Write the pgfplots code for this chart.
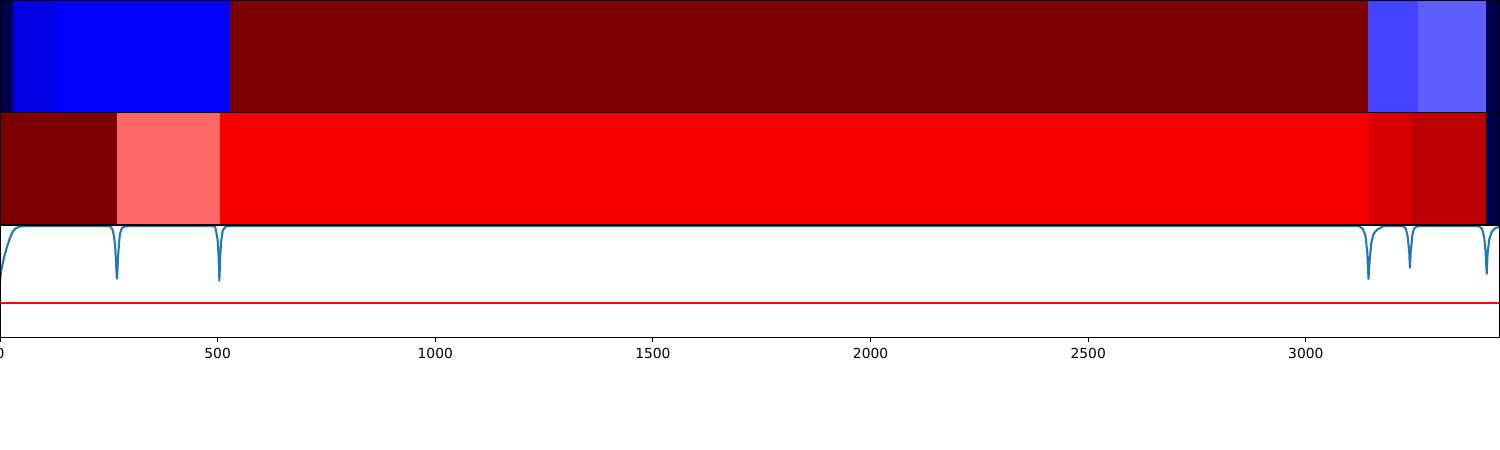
\documentclass[border=0pt]{standalone}
\usepackage{pgfplots}
\pgfplotsset{compat=1.18}
\usepackage{fontspec}
\setmainfont{DejaVu Sans}
\definecolor{navy}{HTML}{00004C}
\definecolor{bluea}{HTML}{0000E2}
\definecolor{blueb}{HTML}{0000FF}
\definecolor{bluec}{HTML}{4444FF}
\definecolor{blued}{HTML}{5E5EFF}
\definecolor{dred}{HTML}{7D0000}
\definecolor{reda}{HTML}{FF6666}
\definecolor{redb}{HTML}{F60000}
\definecolor{redc}{HTML}{D60000}
\definecolor{redd}{HTML}{BA0000}
\definecolor{tabblue}{HTML}{1F77B4}
\pgfplotsset{
  panel/.style={
    scale only axis, width=15in, height=1.125in,
    xmin=0, xmax=3446, ymin=0, ymax=1,
    axis on top, axis line style={black, line width=0.8pt},
    anchor=south west,
  },
  seg/.style={draw=none, fill=#1, forget plot},
}
\begin{document}
\begin{tikzpicture}
\useasboundingbox (0,0) rectangle (15in,4.5in);
% top panel
\begin{axis}[panel, at={(0,3.375in)}, xtick=\empty, ytick=\empty]
\addplot[seg=navy]  coordinates {(0,0) (29,0) (29,1) (0,1)} -- cycle;
\addplot[seg=bluea] coordinates {(29,0) (130,0) (130,1) (29,1)} -- cycle;
\addplot[seg=blueb] coordinates {(130,0) (528,0) (528,1) (130,1)} -- cycle;
\addplot[seg=dred]  coordinates {(528,0) (3142,0) (3142,1) (528,1)} -- cycle;
\addplot[seg=bluec] coordinates {(3142,0) (3257,0) (3257,1) (3142,1)} -- cycle;
\addplot[seg=blued] coordinates {(3257,0) (3415,0) (3415,1) (3257,1)} -- cycle;
\addplot[seg=navy]  coordinates {(3415,0) (3446,0) (3446,1) (3415,1)} -- cycle;
\end{axis}
% second panel
\begin{axis}[panel, at={(0,2.25in)}, xtick=\empty, ytick=\empty]
\addplot[seg=dred] coordinates {(0,0) (269,0) (269,1) (0,1)} -- cycle;
\addplot[seg=reda] coordinates {(269,0) (505,0) (505,1) (269,1)} -- cycle;
\addplot[seg=redb] coordinates {(505,0) (3144,0) (3144,1) (505,1)} -- cycle;
\addplot[seg=redc] coordinates {(3144,0) (3241,0) (3241,1) (3144,1)} -- cycle;
\addplot[seg=redd] coordinates {(3241,0) (3415,0) (3415,1) (3241,1)} -- cycle;
\addplot[seg=navy] coordinates {(3415,0) (3446,0) (3446,1) (3415,1)} -- cycle;
\end{axis}
% bottom panel
\begin{axis}[panel, at={(0,1.125in)}, ytick=\empty,
  xtick={0,500,1000,1500,2000,2500,3000},
  xtick pos=bottom, tick align=outside,
  major tick length=3.5pt,
  xtick style={black, line width=0.8pt},
  tick label style={font=\fontsize{10}{12}\selectfont},
  /pgf/number format/assume math mode=true,
  /pgf/number format/1000 sep={},
  xticklabel style={yshift=-1pt},
]
\addplot[red, line width=1.5pt] coordinates {(0,0.31) (3446,0.31)};
\addplot[tabblue, line width=1.5pt, line join=round] coordinates {
(0,0.496) (2,0.58) (7,0.673) (11,0.735) (16,0.805) (23,0.885) (30,0.947) (37,0.973) (46,0.987) (60,0.991)
(240,0.991) (253,0.987) (258,0.965) (262,0.903) (265,0.779) (268.5,0.522) (270,0.602) (271,0.708) (273.5,0.841) (275.5,0.920) (280,0.973) (287,0.987) (300,0.991)
(480,0.991) (494,0.987) (496,0.956) (500,0.867) (502,0.735) (504,0.504) (506,0.735) (508.5,0.867) (512,0.956) (519,0.987) (530,0.991)
(3110,0.991) (3122,0.989) (3131,0.965) (3137,0.903) (3141,0.761) (3144,0.522) (3147,0.708) (3150.5,0.841) (3155,0.912) (3157,0.929) (3163,0.956) (3170,0.973) (3177,0.987) (3185,0.991)
(3215,0.991) (3225,0.987) (3230,0.965) (3234,0.894) (3237.5,0.761) (3239,0.619) (3241,0.761) (3244.5,0.903) (3248,0.965) (3255,0.987) (3265,0.991)
(3390,0.991) (3399,0.987) (3405,0.965) (3409.5,0.894) (3413,0.761) (3415.5,0.566) (3417.5,0.743) (3421,0.867) (3427,0.938) (3434,0.969) (3446,0.987)
};
\end{axis}
\end{tikzpicture}
\end{document}
